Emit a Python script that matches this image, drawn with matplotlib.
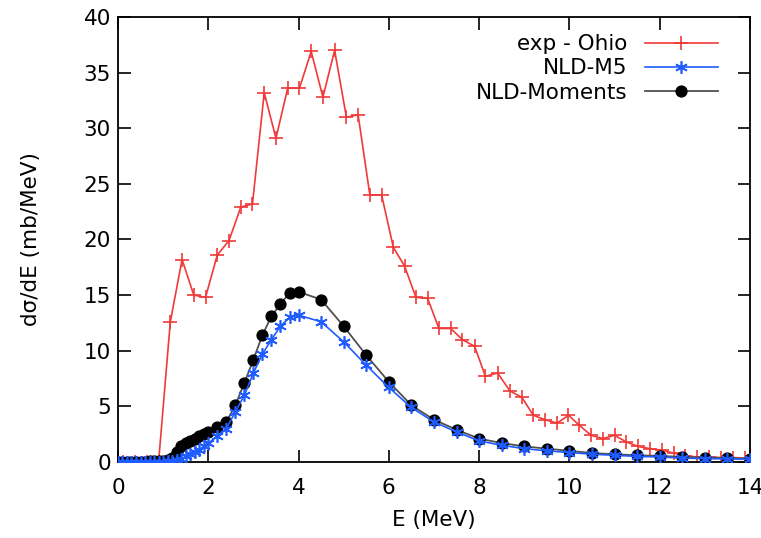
import matplotlib
matplotlib.use("Agg")
import matplotlib.pyplot as plt

plt.rcParams['font.family'] = ['DejaVu Sans']

# exp - Ohio
exp_E = [0.12, 0.38, 0.64, 0.90, 1.16, 1.42, 1.68, 1.94, 2.20, 2.46, 2.72, 2.98,
         3.24, 3.50, 3.76, 4.02, 4.28, 4.54, 4.80, 5.06, 5.32, 5.58, 5.84, 6.10,
         6.35, 6.60, 6.86, 7.11, 7.37, 7.63, 7.90, 8.14, 8.41, 8.68, 8.95, 9.20,
         9.46, 9.73, 9.98, 10.22, 10.48, 10.74, 11.00, 11.26, 11.52, 11.78, 12.05,
         12.31, 12.57, 12.83, 13.10, 13.36, 13.62, 13.90]
exp_Y = [0.0, 0.0, 0.0, 0.0, 12.6, 18.2, 15.0, 14.8, 18.6, 19.9, 22.9, 23.2,
         33.2, 29.1, 33.6, 33.6, 36.9, 32.8, 37.0, 31.0, 31.2, 24.0, 24.0, 19.3,
         17.6, 14.8, 14.7, 12.0, 12.0, 11.0, 10.4, 7.7, 8.0, 6.4, 5.8, 4.2,
         3.8, 3.5, 4.2, 3.3, 2.4, 2.1, 2.4, 1.8, 1.4, 1.2, 1.05,
         0.8, 0.55, 0.45, 0.45, 0.4, 0.4, 0.35]

# Shared energy grid for the model curves
mod_E = [0.0, 0.1, 0.2, 0.3, 0.4, 0.5, 0.6, 0.7, 0.8, 0.9, 1.0, 1.1, 1.2, 1.3,
         1.4, 1.5, 1.6, 1.7, 1.8, 1.9, 2.0, 2.2, 2.4, 2.6, 2.8, 3.0, 3.2, 3.4,
         3.6, 3.8, 4.0, 4.5, 5.0, 5.5, 6.0, 6.5, 7.0, 7.5, 8.0, 8.5, 9.0, 9.5,
         10.0, 10.5, 11.0, 11.5, 12.0, 12.5, 13.0, 13.5, 14.0]

# NLD-M5
m5_Y = [0.0, 0.0, 0.0, 0.0, 0.0, 0.0, 0.0, 0.0, 0.0, 0.0, 0.0, 0.05, 0.1, 0.15,
        0.3, 0.5, 0.7, 0.9, 1.1, 1.4, 1.7, 2.3, 3.0, 4.5, 6.0, 8.0, 9.7, 11.0,
        12.2, 13.0, 13.2, 12.6, 10.8, 8.7, 6.7, 4.9, 3.6, 2.7, 1.9, 1.5, 1.2, 1.0,
        0.85, 0.7, 0.6, 0.5, 0.45, 0.35, 0.3, 0.28, 0.25]

# NLD-Moments
mom_Y = [0.0, 0.0, 0.0, 0.0, 0.0, 0.0, 0.0, 0.05, 0.05, 0.1, 0.1, 0.2, 0.4, 0.9,
         1.4, 1.7, 1.9, 2.1, 2.3, 2.5, 2.7, 3.1, 3.6, 5.1, 7.1, 9.2, 11.4, 13.1,
         14.2, 15.2, 15.3, 14.6, 12.2, 9.6, 7.2, 5.1, 3.8, 2.9, 2.1, 1.7, 1.4, 1.2,
         1.0, 0.8, 0.7, 0.6, 0.55, 0.45, 0.4, 0.35, 0.3]

x_ticks = [0, 2, 4, 6, 8, 10, 12, 14]
y_ticks = [0, 5, 10, 15, 20, 25, 30, 35, 40]

FS = 15.5

fig = plt.figure(figsize=(7.61, 5.38), dpi=100)
ax = fig.add_axes([0.155, 0.1413, 0.8305, 0.8271])

ax.plot(exp_E, exp_Y, color='#f03a3a', lw=1.2, marker='+', ms=9.5, mew=1.2,
        label='exp - Ohio', zorder=2)
ax.plot(mod_E, mom_Y, color='#505050', lw=1.3, marker='o', ms=7.8,
        mfc='black', mec='black', label='NLD-Moments', zorder=3)
ax.plot(mod_E, m5_Y, color='#1f5cff', lw=1.2, marker=(6, 2, 0), ms=9, mew=1.2,
        label='NLD-M5', zorder=4)

ax.set_xlim(0, 14)
ax.set_ylim(0, 40)
ax.set_xticks(x_ticks)
ax.set_yticks(y_ticks)
ax.tick_params(axis='both', direction='in', length=9, width=1.2, top=True,
               right=True, labelsize=FS)
ax.tick_params(axis='x', pad=11.5)
ax.tick_params(axis='y', pad=5)
for s in ax.spines.values():
    s.set_linewidth(1.3)

ax.set_xlabel('E (MeV)', fontsize=FS)
ax.set_ylabel('dσ/dE (mb/MeV)', fontsize=FS)
ax.xaxis.set_label_coords(0.5, -0.108)
ax.yaxis.set_label_coords(-0.122, 0.5)

h, l = ax.get_legend_handles_labels()
order = [0, 2, 1]
ax.legend([h[i] for i in order], [l[i] for i in order], loc='upper right',
          bbox_to_anchor=(0.963, 0.981), borderaxespad=0.0, frameon=False,
          markerfirst=False, fontsize=FS, handlelength=3.4, labelspacing=0.2,
          handletextpad=0.8)

fig.savefig('out.png', dpi=100)
